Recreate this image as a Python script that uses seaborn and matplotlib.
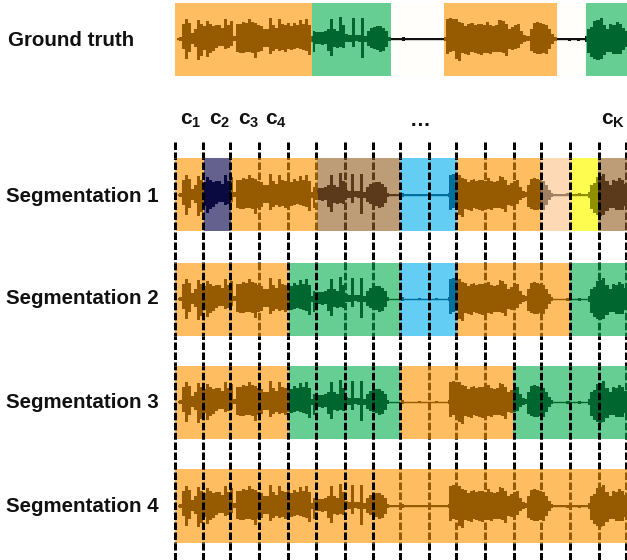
import numpy as np
import matplotlib
matplotlib.use("Agg")
import matplotlib.pyplot as plt
import seaborn as sns
from matplotlib.patches import Rectangle

sns.set_theme(style="white")
plt.rcParams['font.family'] = ['Liberation Sans', 'DejaVu Sans']
plt.rcParams['mathtext.fontset'] = 'custom'
plt.rcParams['mathtext.bf'] = 'Liberation Sans:bold'
plt.rcParams['mathtext.rm'] = 'Liberation Sans:bold'
plt.rcParams['lines.scale_dashes'] = False

# waveform envelope, one piece per burst/silence (amplitudes in px)
burst1_up = [1, 2, 15, 20, 16, 6, 10, 19, 15, 13, 18, 15, 13, 14, 14, 11, 20, 14, 18, 3, 15, 15, 17, 16,
             20, 17, 16, 14, 13, 10, 10, 21, 14, 11, 20, 15, 14, 16, 13, 16, 14, 19, 15, 20, 14, 3]
burst1_low = [1, 2, 10, 20, 13, 5, 8, 21, 17, 11, 18, 14, 12, 9, 7, 7, 10, 9, 7, 2, 13, 14, 14, 13,
              13, 14, 19, 13, 12, 8, 8, 15, 12, 10, 12, 11, 13, 10, 11, 10, 9, 10, 11, 12, 16, 3]
burst2_up = [8, 7, 7, 7, 8, 10, 20, 10, 8, 22, 14, 5, 4, 21, 4, 4, 21, 3, 8, 11, 12, 13, 13, 11, 8, 2]
burst2_low = [13, 5, 5, 6, 5, 12, 17, 8, 9, 8, 9, 3, 3, 8, 2, 3, 19, 3, 7, 9, 10, 11, 13, 12, 8, 2]
silence1 = [0.8, 0.8, 0.8, 0.8, 2, 0.8, 0.8, 0.8, 0.8, 1, 0.8, 0.8, 0.8, 0.8, 1, 0.8, 0.8, 0.8]
burst3_up = [2, 20, 21, 20, 20, 17, 16, 13, 15, 16, 14, 15, 15, 14, 17, 14, 13, 14, 19, 18, 15, 10,
             12, 14, 15, 8, 4, 3, 10, 16, 17, 16, 15, 14, 10, 5, 2]
burst3_low = [2, 15, 13, 12, 20, 22, 14, 15, 16, 13, 14, 15, 16, 14, 14, 15, 13, 13, 13, 14, 17, 10,
              11, 10, 9, 5, 3, 2, 12, 14, 15, 15, 14, 15, 10, 5, 2]
silence2 = [0.8, 0.8, 0.8, 0.8, 1.5, 0.8, 0.8, 1.5, 0.8, 0.8]
burst4_up = [3, 10, 12, 18, 19, 21, 14, 10, 15, 14, 17, 15, 11, 8]
burst4_low = [3, 14, 18, 20, 21, 20, 16, 13, 13, 15, 15, 15, 11, 8]

pieces_up = [burst1_up, burst2_up, silence1, burst3_up, silence2, burst4_up]
pieces_low = [burst1_low, burst2_low, silence1, burst3_low, silence2, burst4_low]
# where each piece starts/ends along the signal
spans_truth = [(177, 312), (313, 390), (391, 443), (444, 556), (557, 584), (585, 627)]
spans_seg = [(178, 312), (313, 388), (389, 447), (448, 552), (553, 587), (588, 629)]

# band colour, signal colour
ORANGE = ('#fdbd60', '#965a00')
GREEN = ('#66ce93', '#00662f')
PURPLE = ('#65618f', '#0a0a40')
TAN = ('#bd9c78', '#5a3a1a')
BLUE = ('#63cdf3', '#006e9a')
PEACH = ('#fdd9b5', '#a08060')
YELLOW = ('#fefc4e', '#8f8f00')
NONE = ('#fffefa', '#111111')

row_names = ['Ground truth', 'Segmentation 1', 'Segmentation 2', 'Segmentation 3', 'Segmentation 4']
row_labels_y = [41, 196, 299, 402, 507]
row_centers = [39, 194.5, 299.3, 402.3, 506]
row_bands = [(2.5, 76), (158, 231), (262.7, 336), (365.7, 439), (469, 542.5)]
row_segments = [
    [(175, 312, ORANGE), (312, 391, GREEN), (391, 444, NONE), (444, 557, ORANGE), (557, 585.5, NONE), (585.5, 627, GREEN)],
    [(175, 203.5, ORANGE), (203.5, 231, PURPLE), (231, 316.5, ORANGE), (316.5, 400, TAN), (400, 456.5, BLUE),
     (456.5, 541, ORANGE), (541, 570.5, PEACH), (570.5, 598, YELLOW), (598, 627, TAN)],
    [(175, 289, ORANGE), (289, 400, GREEN), (400, 456.5, BLUE), (456.5, 570, ORANGE), (570, 627, GREEN)],
    [(175, 289, ORANGE), (289, 400, GREEN), (400, 513, ORANGE), (513, 627, GREEN)],
    [(175, 400, ORANGE), (400, 627, ORANGE)],
]

# candidate boundaries
cut_x = [175, 203.3, 230, 259.3, 288.3, 315.7, 344.7, 373, 399.7, 429, 456, 485, 514.3, 541, 570, 598.7, 625.7]
# which cuts stay black inside each band, the rest take the signal colour
black_cuts = [
    [0, 1, 2, 8, 9, 10, 13, 14, 15],
    [0, 1, 2, 4, 5, 8, 9, 10, 14],
    [0, 1, 2, 3, 4, 5, 6, 7, 8, 12, 13, 14, 15],
    [0, 1, 2, 3, 4, 5, 6, 7],
]
DASH_TOP = 142
DASH_ON, DASH_OFF = 7.5, 2.5

cluster_labels = [r'$\mathbf{c_1}$', r'$\mathbf{c_2}$', r'$\mathbf{c_3}$', r'$\mathbf{c_4}$', r'$\mathbf{\ldots}$', r'$\mathbf{c_K}$']
cluster_x = [191, 220, 249, 276, 419, 613]

fig = plt.figure(figsize=(6.27, 5.6), dpi=100, facecolor='white')
ax = fig.add_axes([0, 0, 1, 1])
ax.set_xlim(0, 627)
ax.set_ylim(560, 0)
ax.axis('off')


def px(v):
    return v * 72 / 100


def dashed(x, y0, y1, color):
    # keep the dash phase running from the top of the line
    offset = px(y0 - DASH_TOP)
    ax.plot([x, x], [y0, y1], color=color, lw=px(3), zorder=4,
            linestyle=(offset, (px(DASH_ON), px(DASH_OFF))))


for r, segs in enumerate(row_segments):
    top, bottom = row_bands[r]
    center = row_centers[r]
    spans = spans_truth if r == 0 else spans_seg
    xs = np.concatenate([np.linspace(a, b, len(p)) for (a, b), p in zip(spans, pieces_up)])
    up = np.concatenate(pieces_up)
    low = np.concatenate(pieces_low)

    for x0, x1, (band, wave) in segs:
        ax.add_patch(Rectangle((x0, top), x1 - x0, bottom - top, facecolor=band, edgecolor='none', zorder=1))
        clip = Rectangle((x0, top), x1 - x0, bottom - top, transform=ax.transData)
        poly = ax.fill_between(xs, center - up, center + low, color=wave, lw=0, zorder=2, step='mid')
        poly.set_clip_path(clip)
        sns.lineplot(x=xs, y=np.full(len(xs), center), ax=ax, color=wave, lw=1.0, sort=False, estimator=None,
                     legend=False, zorder=2)
        ax.lines[-1].set_clip_path(clip)

    ax.text(8 if r == 0 else 6, row_labels_y[r], row_names[r], fontsize=14.8, fontweight='bold',
            color='#111111', va='center', ha='left')

# dashed boundaries, split per band so they can change colour
for c, x in enumerate(cut_x):
    y = DASH_TOP
    for r in range(1, 5):
        top, bottom = row_bands[r]
        dashed(x, y, top, 'black')
        color = 'black'
        if c not in black_cuts[r - 1]:
            for x0, x1, (band, wave) in row_segments[r]:
                if x0 <= x < x1:
                    color = wave
        dashed(x, top, bottom, color)
        y = bottom
    dashed(x, y, 560, 'black')

for x, lab in zip(cluster_x, cluster_labels):
    ax.text(x, 121, lab, fontsize=15, color='#111111', ha='center', va='center')

fig.savefig('out.png', dpi=100)
